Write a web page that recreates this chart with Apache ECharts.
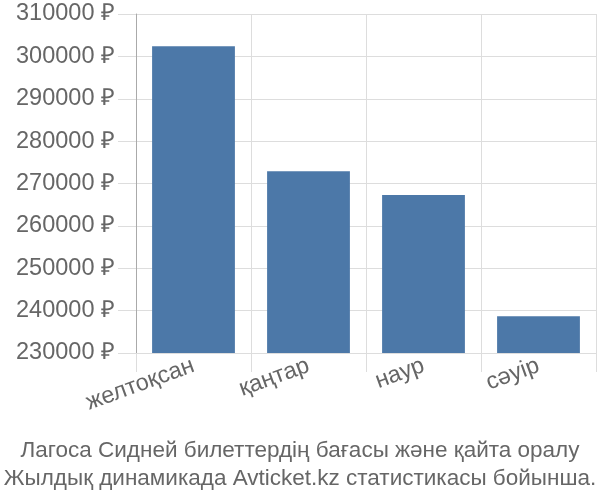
<!DOCTYPE html>
<html style="height: 100%">
<head>
    <meta charset="utf-8">
    <script src="https://cdn.jsdelivr.net/npm/echarts@6/dist/echarts.min.js"></script>
</head>
<body style="height: 100%; margin: 0">
    <div id="container" style="width: 600px; height: 500px"></div>
    <script type="text/javascript">
        var months = ['желтоқсан', 'қаңтар', 'наур', 'сәуір'];
        var prices = [302400, 272900, 267300, 238700];
        var titleLines = ['Лагоса Сидней билеттердің бағасы және қайта оралу', 'Жылдық динамикада Avticket.kz статистикасы бойынша.'];

        var myChart = echarts.init(document.getElementById('container'));
        var font = 'Liberation Sans';
        var option = {
            animation: false,
            textStyle: { fontFamily: font },
            title: {
                text: titleLines.join('\n'),
                left: 'center',
                top: 432,
                textStyle: { fontSize: 22.5, fontWeight: 'normal', color: '#666', lineHeight: 28, fontFamily: font }
            },
            grid: { left: 136, right: 4, top: 14, bottom: 147 },
            xAxis: {
                type: 'category',
                data: months,
                axisLine: { lineStyle: { color: '#ddd' } },
                axisTick: { show: true, length: 19, lineStyle: { color: '#ddd' } },
                splitLine: { show: true, lineStyle: { color: '#ddd' } },
                axisLabel: { rotate: 20, fontSize: 23.5, color: '#666', margin: 12, fontFamily: font }
            },
            yAxis: {
                type: 'value',
                min: 230000,
                max: 310000,
                interval: 10000,
                axisLine: { show: true, lineStyle: { color: '#aaa' } },
                axisTick: { show: true, length: 18, lineStyle: { color: '#ddd' } },
                splitLine: { lineStyle: { color: '#ddd' } },
                axisLabel: {
                    formatter: function (v) { return v + ' ₽'; },
                    fontSize: 23.5, color: '#666', margin: 21, fontFamily: font
                }
            },
            series: [{
                type: 'bar',
                data: prices,
                barCategoryGap: '28%',
                itemStyle: { color: '#4c78a8' }
            }]
        };
        myChart.setOption(option, true);
    </script>
</body>
</html>
